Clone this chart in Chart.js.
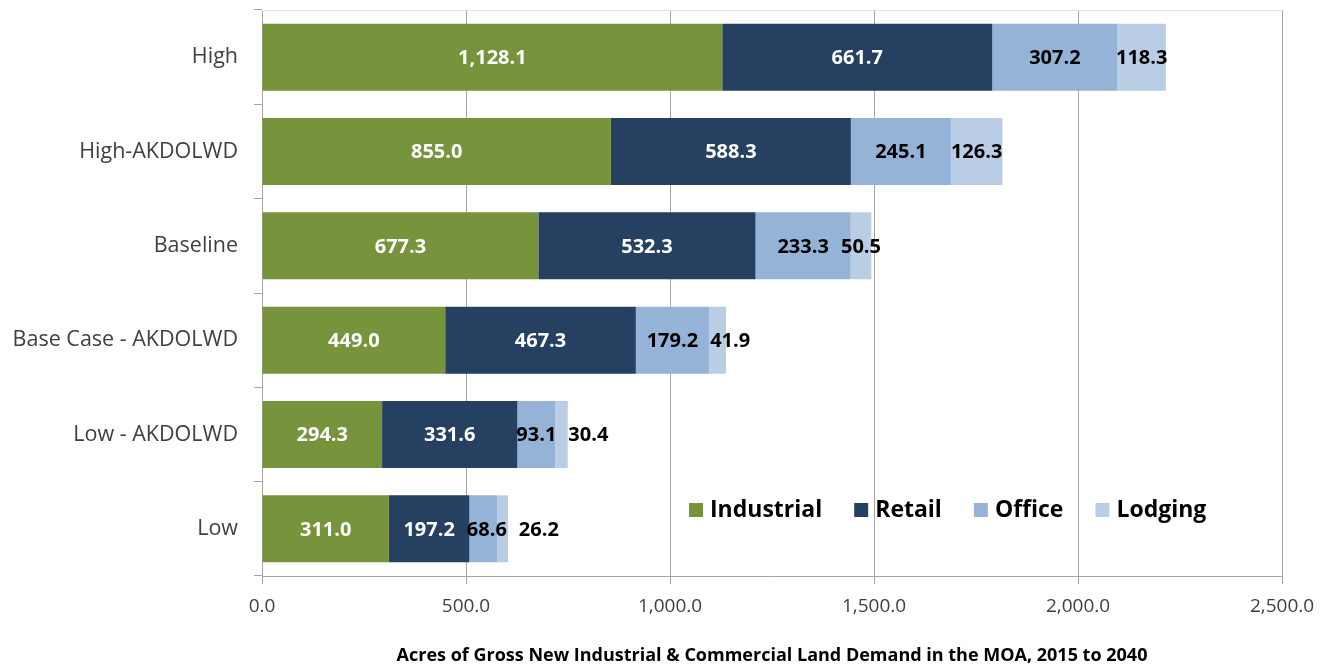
<!DOCTYPE html>
<html>
<head>
<meta charset="utf-8">
<title>Land Demand Scenarios</title>
<script src="https://cdn.jsdelivr.net/npm/chart.js@4.4.1/dist/chart.umd.min.js"></script>
<style>
  html, body { margin: 0; padding: 0; background: #fff; }
  #wrap { width: 1336px; height: 667px; }
</style>
</head>
<body>
<div id="wrap"><canvas id="landChart" width="1336" height="667"></canvas></div>
<script>
const scenarios = ['High', 'High-AKDOLWD', 'Baseline', 'Base Case - AKDOLWD', 'Low - AKDOLWD', 'Low']
const industrial = [1128.1, 855.0, 677.3, 449.0, 294.3, 311.0]
const retail = [661.7, 588.3, 532.3, 467.3, 331.6, 197.2]
const office = [307.2, 245.1, 233.3, 179.2, 93.1, 68.6]
const lodging = [118.3, 126.3, 50.5, 41.9, 30.4, 26.2]
const xTicks = [0, 500, 1000, 1500, 2000, 2500]

const FONT = "'Open Sans', 'DejaVu Sans', sans-serif"
const fmt = v => v.toLocaleString('en-US', { minimumFractionDigits: 1, maximumFractionDigits: 1 })

// value labels, centred in each segment and nudged right so they never overlap
const valueLabels = {
  id: 'valueLabels',
  afterDatasetsDraw(chart) {
    const ctx = chart.ctx
    ctx.save()
    ctx.font = 'bold 20px ' + FONT
    ctx.textBaseline = 'middle'
    ctx.textAlign = 'left'
    const gap = 12
    chart.data.labels.forEach((_, i) => {
      let prevRight = -Infinity
      chart.data.datasets.forEach((ds, d) => {
        const bar = chart.getDatasetMeta(d).data[i]
        const text = fmt(ds.data[i])
        const w = ctx.measureText(text).width
        const cx = (bar.x + bar.base) / 2
        let left = cx - w / 2
        if (left < prevRight + gap) left = prevRight + gap
        ctx.fillStyle = ds.labelColor
        ctx.fillText(text, left, bar.y + 1)
        prevRight = left + w
      })
    })
    ctx.restore()
  }
}

// legend inside the plot area plus the light top border
const plotExtras = {
  id: 'plotExtras',
  beforeDatasetsDraw(chart) {
    const { ctx, chartArea } = chart
    ctx.save()
    ctx.strokeStyle = '#e3e3e3'
    ctx.lineWidth = 1
    ctx.beginPath()
    ctx.moveTo(chartArea.left, chartArea.top + 0.5)
    ctx.lineTo(chartArea.right, chartArea.top + 0.5)
    ctx.stroke()
    ctx.restore()
  },
  afterDraw(chart) {
    const { ctx, chartArea } = chart
    ctx.save()
    ctx.font = 'bold 23px ' + FONT
    ctx.textBaseline = 'middle'
    let x = chartArea.left + 427
    const y = chartArea.bottom - 66
    chart.data.datasets.forEach(ds => {
      ctx.fillStyle = ds.backgroundColor
      ctx.fillRect(x, y - 7, 14, 14)
      ctx.fillStyle = '#000'
      ctx.fillText(ds.label, x + 21, y)
      x += 21 + ctx.measureText(ds.label).width + 32
    })
    ctx.restore()
  }
}

const mkSet = (label, data, color, labelColor) => ({
  label, data, labelColor,
  backgroundColor: color,
  borderWidth: 0,
  barPercentage: 0.71,
  categoryPercentage: 1.0
})

new Chart(document.getElementById('landChart'), {
  type: 'bar',
  data: {
    labels: scenarios,
    datasets: [
      mkSet('Industrial', industrial, '#77933c', '#ffffff'),
      mkSet('Retail', retail, '#254061', '#ffffff'),
      mkSet('Office', office, '#95b3d7', '#000000'),
      mkSet('Lodging', lodging, '#b9cde5', '#000000')
    ]
  },
  options: {
    indexAxis: 'y',
    responsive: false,
    animation: false,
    layout: { padding: { left: 0, right: 54, top: 10, bottom: 0 } },
    plugins: {
      legend: { display: false },
      tooltip: { enabled: false }
    },
    scales: {
      x: {
        stacked: true,
        min: 0,
        max: 2500,
        afterBuildTicks: s => { s.ticks = xTicks.map(v => ({ value: v })) },
        afterFit: s => { s.height = 91 },
        grid: { color: '#a6a6a6', tickLength: 8, drawTicks: true },
        border: { display: true, color: '#a6a6a6' },
        ticks: {
          color: '#404040',
          font: { family: FONT, size: 19 },
          padding: 11,
          maxRotation: 0,
          callback: v => fmt(v)
        },
        title: {
          display: true,
          text: 'Acres of Gross New Industrial & Commercial Land Demand in the MOA, 2015 to 2040',
          color: '#000',
          font: { family: FONT, size: 18, weight: 'bold' },
          padding: { top: 6, bottom: 0 }
        }
      },
      y: {
        stacked: true,
        afterFit: s => { s.width = 262; s.paddingTop = 0; s.paddingBottom = 0 },
        grid: { drawOnChartArea: false, drawTicks: true, tickLength: 8, color: '#a6a6a6', offset: true },
        border: { display: true, color: '#a6a6a6' },
        ticks: {
          color: '#404040',
          font: { family: FONT, size: 21.5 },
          padding: 16
        }
      }
    }
  },
  plugins: [valueLabels, plotExtras]
})
</script>
</body>
</html>
